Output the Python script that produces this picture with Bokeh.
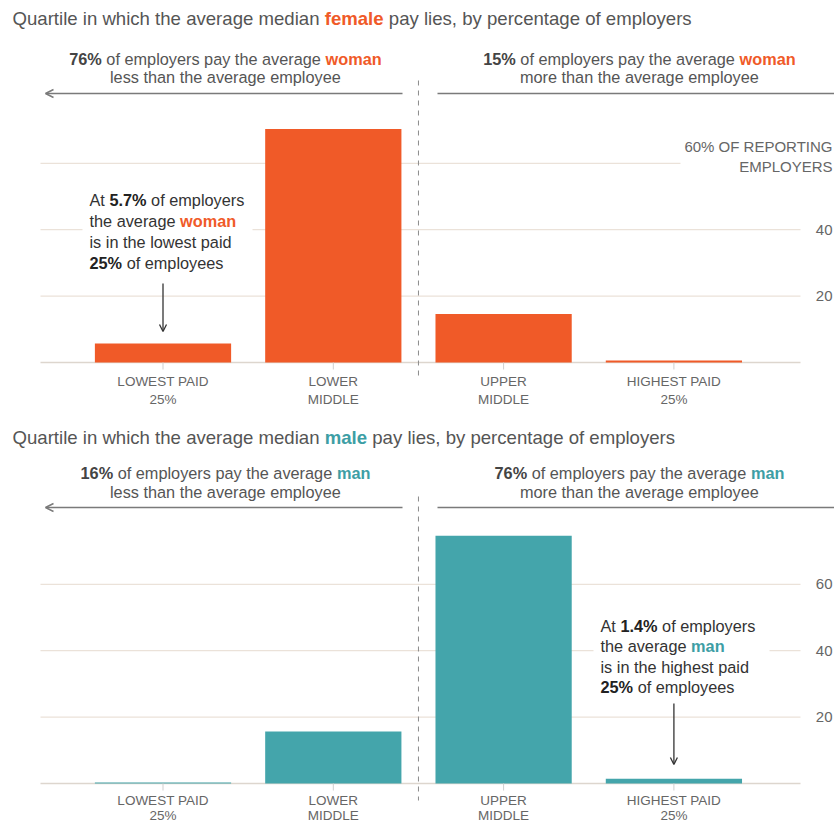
from bokeh.plotting import figure
from bokeh.models import Range1d, Arrow, OpenHead
from bokeh.layouts import column
from bokeh.core.properties import value
from bokeh.embed import file_html
from bokeh.resources import INLINE

# ---------------- data ----------------
quartile_line1 = ["LOWEST PAID", "LOWER", "UPPER", "HIGHEST PAID"]
quartile_line2 = ["25%", "MIDDLE", "MIDDLE", "25%"]
female_pct = [5.7, 70.3, 14.6, 0.6]
male_pct = [0.3, 15.7, 74.6, 1.4]
grid_ticks = [20, 40, 60]
female_tick_values = [20, 40]
female_tick_labels = ["20", "40"]
female_top_label = ["60% OF REPORTING", "EMPLOYERS"]
male_tick_values = [20, 40, 60]
male_tick_labels = ["20", "40", "60"]

# ---------------- style ----------------
ORANGE = "#f05a28"
TEAL = "#44a5ab"
TEAL_TXT = "#3d9ea5"
GRAY = "#555555"
DARK = "#333333"
GRID = "#ebe2d9"
BASE = "#ddd6ce"
FONT = "Liberation Sans"

W = 834
X_START, X_END = -0.9542, 3.943
PX_PER_PCT = 3.32
BASE_PX = 362

REG = {' ': 278, '%': 889, ',': 278, '.': 278}
BOLD = {' ': 278, '%': 889, ',': 278, '.': 278}
for d in "0123456789":
    REG[d] = 556
    BOLD[d] = 556
REG.update(dict(zip("ABCDEFGHIJKLMNOPQRSTUVWXYZ",
                    [667, 667, 722, 722, 667, 611, 778, 722, 278, 500, 667, 556, 833, 722, 778, 667, 778, 722, 667, 611, 722, 667, 944, 667, 667, 611])))
REG.update(dict(zip("abcdefghijklmnopqrstuvwxyz",
                    [556, 556, 500, 556, 556, 278, 556, 556, 222, 222, 500, 222, 833, 556, 556, 556, 556, 333, 500, 278, 556, 500, 722, 500, 500, 500])))
BOLD.update(dict(zip("ABCDEFGHIJKLMNOPQRSTUVWXYZ",
                     [722, 722, 722, 722, 667, 611, 778, 722, 278, 556, 722, 611, 833, 722, 778, 667, 778, 722, 667, 611, 722, 667, 944, 667, 667, 611])))
BOLD.update(dict(zip("abcdefghijklmnopqrstuvwxyz",
                     [556, 611, 556, 611, 556, 333, 611, 611, 278, 278, 556, 278, 889, 611, 611, 611, 611, 389, 556, 333, 611, 556, 778, 556, 556, 500])))


def tw(s, bold, size):
    t = BOLD if bold else REG
    return sum(t.get(c, 556) for c in s) * size / 1000.0


def px2x(px):
    return X_START + px / W * (X_END - X_START)


def py2y(py):
    return (BASE_PX - py) / PX_PER_PCT


def rich(p, segs, x_px, y_px, size, align="left"):
    total = sum(tw(t, b, size) for t, b, c in segs)
    x = x_px - total / 2 if align == "center" else x_px
    for t, b, c in segs:
        lead = len(t) - len(t.lstrip(" "))
        s = t.strip(" ")
        if s:
            p.text(x=[px2x(x + lead * 278 * size / 1000.0)], y=[py2y(y_px)], text=[s],
                   text_font=value(FONT), text_font_size=f"{size}px",
                   text_font_style="bold" if b else "normal", text_color=c,
                   text_align="left", text_baseline="middle")
        x += tw(t, b, size)


def make_fig(h):
    p = figure(width=W, height=h, x_range=Range1d(X_START, X_END),
               y_range=Range1d(-(h - BASE_PX) / PX_PER_PCT, BASE_PX / PX_PER_PCT),
               output_backend="svg", toolbar_location=None,
               x_axis_location=None, y_axis_location=None,
               min_border=0, min_border_left=0, min_border_right=0,
               min_border_top=0, min_border_bottom=0)
    p.grid.visible = False
    p.outline_line_color = None
    p.background_fill_color = "white"
    p.border_fill_color = "white"
    return p


def build(h, values, color, word, word_color, key, left_pct, right_pct,
          title_y, note_y1, note_y2, arrow_y, dash_top, box, ann_x, ann_ys, ann_lines,
          arrow_x_idx, arrow_y0, arrow_y1, tick_vals, tick_labels, top_label, label_ys):
    p = make_fig(h)
    idx = list(range(len(values)))
    # gridlines
    p.segment(x0=[px2x(40)] * len(grid_ticks), x1=[px2x(800)] * len(grid_ticks),
              y0=grid_ticks, y1=grid_ticks, line_color=GRID, line_width=1.2)
    p.segment(x0=[px2x(40)], x1=[px2x(800)], y0=[0], y1=[0], line_color=BASE, line_width=1.5)
    # white boxes behind annotations
    p.quad(left=[px2x(box[0])], right=[px2x(box[1])], top=[py2y(box[2])], bottom=[py2y(box[3])],
           fill_color="white", line_color=None)
    if top_label:
        p.quad(left=[px2x(680)], right=[px2x(834)], top=[py2y(136)], bottom=[py2y(176)],
               fill_color="white", line_color=None)
    # bars
    p.vbar(x=idx, top=values, bottom=0, width=0.8, fill_color=color, line_color=None)
    # category ticks
    p.segment(x0=idx, x1=idx, y0=[0] * 4, y1=[py2y(369)] * 4, line_color="#cfcfcf", line_width=1)
    # dashed divider
    p.segment(x0=[1.5], x1=[1.5], y0=[py2y(dash_top)], y1=[py2y(379)],
              line_color="#8a8a8a", line_width=1, line_dash="5 5")
    # category labels
    for line, ypx in zip((quartile_line1, quartile_line2), label_ys):
        p.text(x=idx, y=[py2y(ypx)] * 4, text=line, text_font=value(FONT),
               text_font_size="13.5px", text_color="#666666", text_align="center",
               text_baseline="middle")
    # right tick labels
    p.text(x=[px2x(832)] * len(tick_vals), y=tick_vals, text=tick_labels,
           text_font=value(FONT), text_font_size="15px", text_color="#666666",
           text_align="right", text_baseline="middle")
    if top_label:
        for t, ypx in zip(top_label, (146, 166)):
            p.text(x=[px2x(832)], y=[py2y(ypx)], text=[t], text_font=value(FONT),
                   text_font_size="15px", text_color="#666666", text_align="right",
                   text_baseline="middle")
    # title
    rich(p, [("Quartile in which the average median ", False, GRAY), (key, True, word_color),
             (" pay lies, by percentage of employers", False, GRAY)], 12, title_y, 18.6)
    # notes
    rich(p, [(left_pct, True, "#444444"), (" of employers pay the average ", False, GRAY),
             (word, True, word_color)], 225, note_y1, 16.3, "center")
    rich(p, [("less than the average employee", False, GRAY)], 225, note_y2, 16.3, "center")
    rich(p, [(right_pct, True, "#444444"), (" of employers pay the average ", False, GRAY),
             (word, True, word_color)], 639, note_y1, 16.3, "center")
    rich(p, [("more than the average employee", False, GRAY)], 639, note_y2, 16.3, "center")
    # arrows
    p.add_layout(Arrow(x_start=px2x(402), y_start=py2y(arrow_y), x_end=px2x(45), y_end=py2y(arrow_y),
                       line_color="#7a7a7a", line_width=1.5,
                       end=OpenHead(size=8, line_color="#7a7a7a", line_width=1.5)))
    p.add_layout(Arrow(x_start=px2x(437), y_start=py2y(arrow_y), x_end=px2x(850), y_end=py2y(arrow_y),
                       line_color="#7a7a7a", line_width=1.5,
                       end=OpenHead(size=8, line_color="#7a7a7a", line_width=1.5)))
    # annotation
    for segs, ypx in zip(ann_lines, ann_ys):
        rich(p, segs, ann_x, ypx, 16.3)
    p.add_layout(Arrow(x_start=arrow_x_idx, y_start=py2y(arrow_y0), x_end=arrow_x_idx, y_end=py2y(arrow_y1),
                       line_color="#333333", line_width=1.3,
                       end=OpenHead(size=7, line_color="#333333", line_width=1.3)))
    return p


ann_f = [
    [("At ", False, DARK), ("5.7%", True, "#222222"), (" of employers", False, DARK)],
    [("the average ", False, DARK), ("woman", True, ORANGE)],
    [("is in the lowest paid", False, DARK)],
    [("25%", True, "#222222"), (" of employees", False, DARK)],
]
ann_m = [
    [("At ", False, DARK), ("1.4%", True, "#222222"), (" of employers", False, DARK)],
    [("the average ", False, DARK), ("man", True, TEAL_TXT)],
    [("is in the highest paid", False, DARK)],
    [("25%", True, "#222222"), (" of employees", False, DARK)],
]

p1 = build(421, female_pct, ORANGE, "woman", ORANGE, "female", "76%", "15%",
           18, 58, 76, 93, 80, (82, 252, 186, 274), 89, [199, 220, 241, 262], ann_f,
           0, 283, 331, female_tick_values, female_tick_labels, female_top_label, (381, 399))
p2 = build(404, male_pct, TEAL, "man", TEAL_TXT, "male", "16%", "76%",
           16, 51, 70, 86, 75, (593, 769, 192, 276), 600, [204, 224, 245, 265], ann_m,
           3, 282, 343, male_tick_values, male_tick_labels, None, (379, 394))

layout = column(p1, p2, spacing=0)
open("out.html", "w").write(file_html(layout, INLINE))
